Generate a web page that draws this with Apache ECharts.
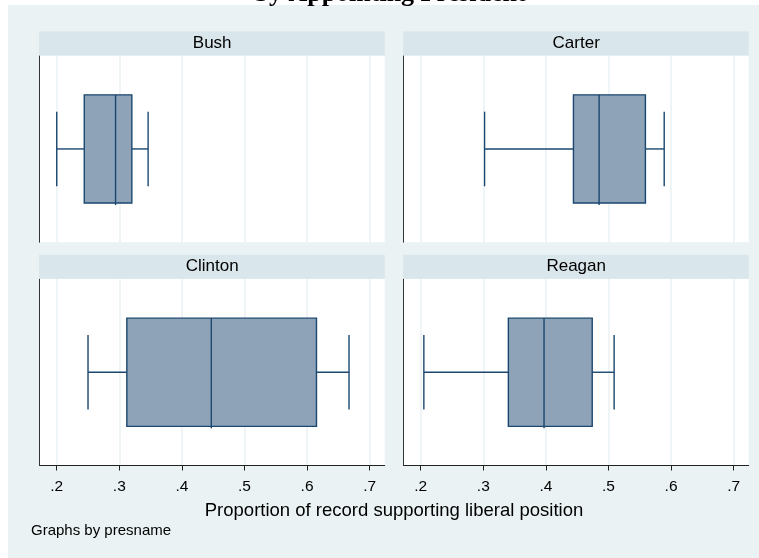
<!DOCTYPE html>
<html><head><meta charset="utf-8">
<script src="https://cdn.jsdelivr.net/npm/echarts@6/dist/echarts.min.js"></script>
<style>html,body{margin:0;padding:0;background:#fff}#c{width:759px;height:558px}</style>
</head><body><div id="c"></div>
<script>
// ---- data ----
const presidents = ['Bush', 'Carter', 'Clinton', 'Reagan'];
const lowerWhisker  = [0.200, 0.302, 0.250, 0.205];
const lowerQuartile = [0.244, 0.444, 0.312, 0.340];
const medianValue   = [0.294, 0.485, 0.447, 0.397];
const upperQuartile = [0.320, 0.559, 0.615, 0.474];
const upperWhisker  = [0.346, 0.589, 0.667, 0.509];
const xTickValues = [0.2, 0.3, 0.4, 0.5, 0.6, 0.7];
const xAxisRange = [0.1728, 0.724];
const xAxisTitle = 'Proportion of record supporting liberal position';
const noteText = 'Graphs by presname';
const titleText = 'by Appointing President';

// ---- layout ----
const panels = [
  { left: 39.7, top: 55.7 }, { left: 403.7, top: 55.7 },
  { left: 39.7, top: 279 },  { left: 403.7, top: 279 }
];
const PW = 345, PH = 186.5, HEAD = 24;
const NAVY = '#1a476f', FILL = '#8ea3b8', GRIDC = '#eaf2f3', HEADC = '#d9e6eb';
const SANS = "'Liberation Sans', Arial, sans-serif";

const chart = echarts.init(document.getElementById('c'), null, { renderer: 'canvas' });

const grids = [], xAxes = [], yAxes = [], series = [], graphics = [];
const fmt = v => Number(v).toFixed(1).replace(/^0/, '');

// background strips (white outside the light frame)
graphics.push({ type: 'rect', shape: { x: 0, y: 0, width: 759, height: 5 }, style: { fill: '#fff' }, z: 1, silent: true });
graphics.push({ type: 'rect', shape: { x: 0, y: 0, width: 8, height: 558 }, style: { fill: '#fff' }, z: 1, silent: true });

panels.forEach((p, i) => {
  const bottomRow = i >= 2;
  grids.push({ left: p.left, top: p.top, width: PW, height: PH, show: true, backgroundColor: '#fff', borderWidth: 0, containLabel: false });
  xAxes.push({
    type: 'value', gridIndex: i, min: xAxisRange[0], max: xAxisRange[1],
    axisLine: { show: bottomRow, onZero: false, lineStyle: { color: '#222', width: 1 } },
    axisTick: { show: bottomRow, customValues: xTickValues, length: 5, inside: false, lineStyle: { color: '#222', width: 1 } },
    axisLabel: { show: bottomRow, customValues: xTickValues, formatter: fmt, color: '#000', fontFamily: SANS, fontSize: 15.5, margin: 13 },
    splitLine: { show: true, lineStyle: { color: GRIDC, width: 1.5 } }
  });
  yAxes.push({
    type: 'value', gridIndex: i, min: 0, max: 1,
    axisLine: { show: true, onZero: false, lineStyle: { color: '#333', width: 1 } },
    axisTick: { show: false }, axisLabel: { show: false }, splitLine: { show: false }
  });
  series.push({
    type: 'custom', name: presidents[i], xAxisIndex: i, yAxisIndex: i,
    encode: { x: [0, 1, 2, 3, 4] },
    data: [[lowerWhisker[i], lowerQuartile[i], medianValue[i], upperQuartile[i], upperWhisker[i]]],
    renderItem: (params, api) => {
      const lw = api.value(0), q1 = api.value(1), md = api.value(2), q3 = api.value(3), uw = api.value(4);
      const c = 0.5, bh = 0.29, ch = 0.2;
      const pLw = api.coord([lw, c]), pQ1 = api.coord([q1, c]), pMd = api.coord([md, c]);
      const pQ3 = api.coord([q3, c]), pUw = api.coord([uw, c]);
      const yTop = api.coord([q1, c + bh])[1], yBot = api.coord([q1, c - bh])[1];
      const cTop = api.coord([lw, c + ch])[1], cBot = api.coord([lw, c - ch])[1];
      const ls = { stroke: NAVY, lineWidth: 1.4, fill: null };
      return { type: 'group', children: [
        { type: 'line', shape: { x1: pLw[0], y1: pLw[1], x2: pQ1[0], y2: pQ1[1] }, style: ls },
        { type: 'line', shape: { x1: pQ3[0], y1: pQ3[1], x2: pUw[0], y2: pUw[1] }, style: ls },
        { type: 'line', shape: { x1: pLw[0], y1: cTop, x2: pLw[0], y2: cBot }, style: ls },
        { type: 'line', shape: { x1: pUw[0], y1: cTop, x2: pUw[0], y2: cBot }, style: ls },
        { type: 'rect', shape: { x: pQ1[0], y: yTop, width: pQ3[0] - pQ1[0], height: yBot - yTop }, style: { fill: FILL, stroke: NAVY, lineWidth: 1.4 } },
        { type: 'line', shape: { x1: pMd[0], y1: yTop, x2: pMd[0], y2: yBot + 2 }, style: ls }
      ]};
    }
  });
  // header strip
  graphics.push({ type: 'rect', shape: { x: p.left - 0.7, y: p.top - HEAD - 0.3, width: PW + 0.7, height: HEAD }, style: { fill: HEADC }, z: 2, silent: true });
  graphics.push({ type: 'text', x: p.left + PW / 2, y: p.top - HEAD / 2 - 0.3, z: 3, silent: true,
    style: { text: presidents[i], fill: '#000', font: '17px ' + SANS, textAlign: 'center', textVerticalAlign: 'middle' } });
});

graphics.push({ type: 'text', x: 394, y: 511, z: 3, silent: true,
  style: { text: xAxisTitle, fill: '#000', font: '18.5px ' + SANS, textAlign: 'center', textVerticalAlign: 'middle' } });
graphics.push({ type: 'text', x: 31, y: 531, z: 3, silent: true,
  style: { text: noteText, fill: '#000', font: '15px ' + SANS, textAlign: 'left', textVerticalAlign: 'middle' } });
graphics.push({ type: 'text', x: 390, y: 7, z: 3, silent: true,
  style: { text: titleText, fill: '#000', font: "bold 26px 'Liberation Serif', 'Times New Roman', serif", textAlign: 'center', textVerticalAlign: 'bottom' } });

chart.setOption({
  backgroundColor: '#eaf2f3',
  animation: false,
  grid: grids, xAxis: xAxes, yAxis: yAxes, series: series,
  graphic: { elements: graphics }
});
</script></body></html>
